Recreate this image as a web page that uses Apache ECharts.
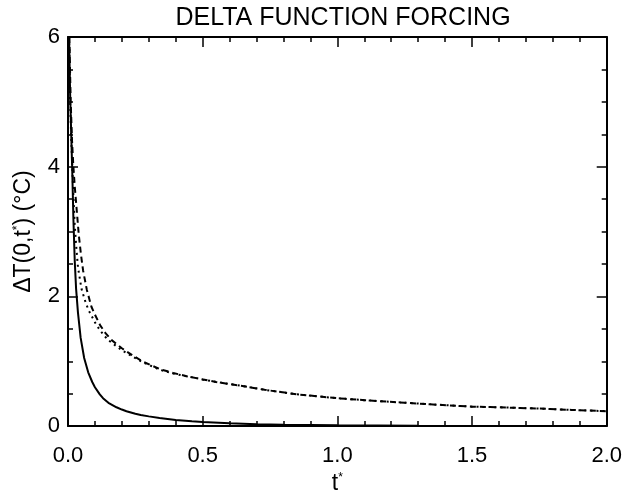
<!DOCTYPE html>
<html>
<head>
<meta charset="utf-8">
<title>Delta function forcing</title>
<script src="https://cdn.jsdelivr.net/npm/echarts@6/dist/echarts.min.js"></script>
<style>
  html, body { margin: 0; padding: 0; background: #fff; }
  #chart { width: 625px; height: 500px; }
</style>
</head>
<body>
<div id="chart"></div>
<script>
// solid curve
var tSolid = [0.004, 0.008, 0.012, 0.016, 0.02, 0.025, 0.03, 0.037, 0.047, 0.06, 0.075, 0.09, 0.1, 0.118, 0.13, 0.15, 0.18, 0.2, 0.217, 0.25, 0.27, 0.3, 0.34, 0.4, 0.46, 0.5, 0.6, 0.7, 0.8, 1.0, 1.3, 1.6, 2.0];
var vSolid = [6.0, 5.1, 4.5, 3.9, 3.2, 2.55, 2.12, 1.75, 1.36, 1.05, 0.83, 0.68, 0.6, 0.49, 0.43, 0.36, 0.29, 0.255, 0.23, 0.19, 0.17, 0.15, 0.125, 0.095, 0.075, 0.065, 0.045, 0.03, 0.022, 0.012, 0.006, 0.003, 0.001];

// dashed curve (upper)
var tDash = [0.005, 0.01, 0.015, 0.02, 0.025, 0.03, 0.04, 0.048, 0.056, 0.07, 0.087, 0.1, 0.12, 0.14, 0.161, 0.2, 0.24, 0.28, 0.34, 0.39, 0.44, 0.5, 0.55, 0.63, 0.73, 0.85, 1.0, 1.1, 1.25, 1.37, 1.5, 1.6, 1.75, 1.87, 2.0];
var vDash = [6.0, 5.0, 4.4, 4.0, 3.7, 3.45, 2.95, 2.65, 2.4, 2.1, 1.84, 1.72, 1.55, 1.43, 1.33, 1.2, 1.09, 0.99, 0.88, 0.82, 0.77, 0.72, 0.68, 0.63, 0.56, 0.49, 0.43, 0.40, 0.36, 0.33, 0.30, 0.29, 0.27, 0.25, 0.23];

// dotted curve (lower)
var tDot = [0.004, 0.008, 0.012, 0.016, 0.02, 0.025, 0.03, 0.037, 0.05, 0.062, 0.075, 0.1, 0.12, 0.148, 0.2, 0.24, 0.28, 0.34, 0.39, 0.44, 0.5, 0.55, 0.63, 0.73, 0.85, 1.0, 1.1, 1.25, 1.37, 1.5, 1.6, 1.75, 1.87, 2.0];
var vDot = [6.0, 5.0, 4.45, 4.0, 3.55, 3.1, 2.8, 2.45, 2.12, 1.95, 1.8, 1.6, 1.47, 1.33, 1.17, 1.07, 0.98, 0.87, 0.81, 0.77, 0.72, 0.68, 0.63, 0.56, 0.49, 0.43, 0.40, 0.36, 0.33, 0.30, 0.29, 0.27, 0.25, 0.23];

function pairs(xs, ys) {
    var out = [];
    for (var i = 0; i < xs.length; i++) out.push([xs[i], ys[i]]);
    return out;
}

var FONT = 'Liberation Sans';
var myChart = echarts.init(document.getElementById('chart'));

var xCommon = {
    type: 'value', min: 0, max: 2, interval: 0.5,
    axisLine: { show: true, onZero: false, lineStyle: { color: '#000', width: 2 } },
    axisTick: { show: true, inside: true, length: 10, lineStyle: { color: '#000', width: 1.5 } },
    minorTick: { show: true, splitNumber: 5, length: 5, lineStyle: { color: '#000', width: 1.5 } },
    splitLine: { show: false }
};
var yCommon = {
    type: 'value', min: 0, max: 6, interval: 2,
    axisLine: { show: true, onZero: false, lineStyle: { color: '#000', width: 2 } },
    axisTick: { show: true, inside: true, length: 10, lineStyle: { color: '#000', width: 1.5 } },
    minorTick: { show: true, splitNumber: 4, length: 5, lineStyle: { color: '#000', width: 1.5 } },
    splitLine: { show: false }
};

var option = {
    animation: false,
    title: {
        text: 'DELTA FUNCTION FORCING',
        left: 338, top: 1, textAlign: 'center',
        textStyle: { fontFamily: FONT, fontSize: 25, fontWeight: 'normal', color: '#000' }
    },
    grid: { left: 68, right: 15, top: 37, bottom: 65 },
    xAxis: [
        echarts.util.merge({
            position: 'bottom',
            name: 't{s|*}', nameLocation: 'middle', nameGap: 43,
            nameTextStyle: {
                fontFamily: FONT, fontSize: 23, color: '#000',
                rich: { s: { fontFamily: FONT, fontSize: 12, verticalAlign: 'top', color: '#000' } }
            },
            axisLabel: {
                margin: 19, fontFamily: FONT, fontSize: 22, color: '#000',
                formatter: function (v) { return v.toFixed(1); }
            }
        }, xCommon, true),
        echarts.util.merge({ position: 'top', axisLabel: { show: false } }, xCommon, true)
    ],
    yAxis: [
        echarts.util.merge({
            position: 'left',
            name: 'ΔT(0,t{s|*}) (°C)', nameLocation: 'middle', nameGap: 33, nameRotate: 90,
            nameTextStyle: {
                fontFamily: FONT, fontSize: 23, color: '#000',
                rich: { s: { fontFamily: FONT, fontSize: 12, verticalAlign: 'top', color: '#000' } }
            },
            axisLabel: {
                margin: 8, fontFamily: FONT, fontSize: 22, color: '#000',
                formatter: function (v) { return String(v); }
            }
        }, yCommon, true),
        echarts.util.merge({ position: 'right', axisLabel: { show: false } }, yCommon, true)
    ],
    series: [
        {
            name: 'solid', type: 'line', xAxisIndex: 0, yAxisIndex: 0,
            data: pairs(tSolid, vSolid), showSymbol: false,
            lineStyle: { color: '#000', width: 2 }
        },
        {
            name: 'dashed', type: 'line', xAxisIndex: 0, yAxisIndex: 0,
            data: pairs(tDash, vDash), showSymbol: false,
            lineStyle: { color: '#000', width: 2, type: [6, 4] }
        },
        {
            name: 'dotted', type: 'line', xAxisIndex: 0, yAxisIndex: 0,
            data: pairs(tDot, vDot), showSymbol: false,
            lineStyle: { color: '#000', width: 2, type: [2, 4] }
        }
    ]
};
myChart.setOption(option);
</script>
</body>
</html>
